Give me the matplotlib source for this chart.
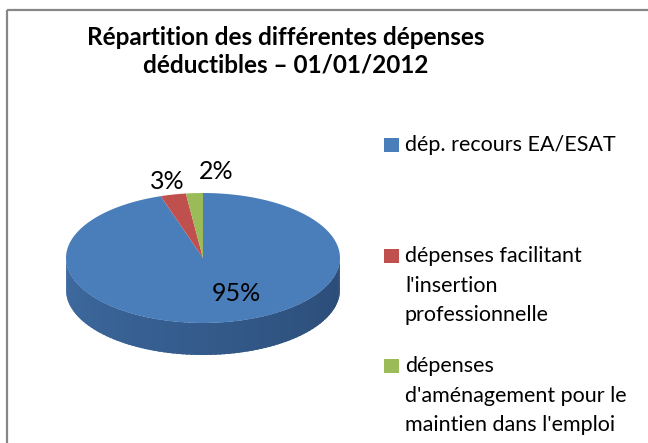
import numpy as np
import matplotlib
matplotlib.use("Agg")
import matplotlib.pyplot as plt
from matplotlib.patches import Polygon, Rectangle
from matplotlib.colors import to_rgb

plt.rcParams['font.family'] = ['Lato', 'DejaVu Sans']

# donnees
categories = ["dép. recours EA/ESAT",
              "dépenses facilitant\nl'insertion\nprofessionnelle",
              "dépenses\nd'aménagement pour le\nmaintien dans l'emploi"]
valeurs = [95, 3, 2]
couleurs = ["#4A7EBB", "#C0504D", "#9BBB59"]
titre = ["Répartition des différentes dépenses", "déductibles – 01/01/2012"]

# geometrie du camembert 3D (pixels)
cx, cy = 203, 258
rx, ry = 137, 65
epaisseur = 32

def point(theta, r=1.0, dy=0.0):
    t = np.radians(theta)
    return cx + rx * r * np.sin(t), cy - ry * r * np.cos(t) + dy

fig = plt.figure(figsize=(6.48, 4.43), dpi=100)
ax = fig.add_axes([0, 0, 1, 1])
ax.set_xlim(0, 648)
ax.set_ylim(443, 0)
ax.axis('off')

# cadre
ax.add_patch(Rectangle((7, 10), 700, 500, fill=False, edgecolor='#878787', lw=1.6))

# titre
for i, ligne in enumerate(titre):
    ax.text(286, 37 + i * 28, ligne, ha='center', va='center', fontsize=17.5, fontweight='bold', color='#000000')

total = sum(valeurs)
angles = np.cumsum([0] + [v / total * 360 for v in valeurs])

# face laterale (avant), degrade de gauche a droite
c_gauche = np.array(to_rgb("#3E6BA1"))
c_droite = np.array(to_rgb("#2A4A74"))
pas = np.linspace(90, 270, 91)
for a, b in zip(pas[:-1], pas[1:]):
    k = (b - 90) / 180
    col = c_droite * (1 - k) + c_gauche * k
    b2 = min(b + 1.5, 270)
    pts = [point(a), point(b2), point(b2, dy=epaisseur), point(a, dy=epaisseur)]
    ax.add_patch(Polygon(pts, closed=True, facecolor=col, edgecolor='none'))

# face superieure
for i in range(len(valeurs)):
    th = np.linspace(angles[i], angles[i + 1], 200)
    pts = [(cx, cy)] + [point(t) for t in th]
    ax.add_patch(Polygon(pts, closed=True, facecolor=couleurs[i], edgecolor='none'))

# etiquettes de pourcentage
rayons = [0.55, 1.2, 1.33]
decal_x = [22, 0, 25]
for i, v in enumerate(valeurs):
    mid = (angles[i] + angles[i + 1]) / 2
    x, y = point(mid, rayons[i])
    ax.text(x + decal_x[i], y, f"{round(v / total * 100)}%", ha='center', va='center', fontsize=18, color='#000000')

# legende
y_leg = [145, 256, 366]
for i, lab in enumerate(categories):
    ax.add_patch(Rectangle((384, y_leg[i] - 7), 15, 14, facecolor=couleurs[i], edgecolor='none'))
    for j, ligne in enumerate(lab.split("\n")):
        ax.text(405, y_leg[i] + j * 29.5, ligne, ha='left', va='center', fontsize=15.5, color='#000000')

fig.savefig("out.png", dpi=100)
